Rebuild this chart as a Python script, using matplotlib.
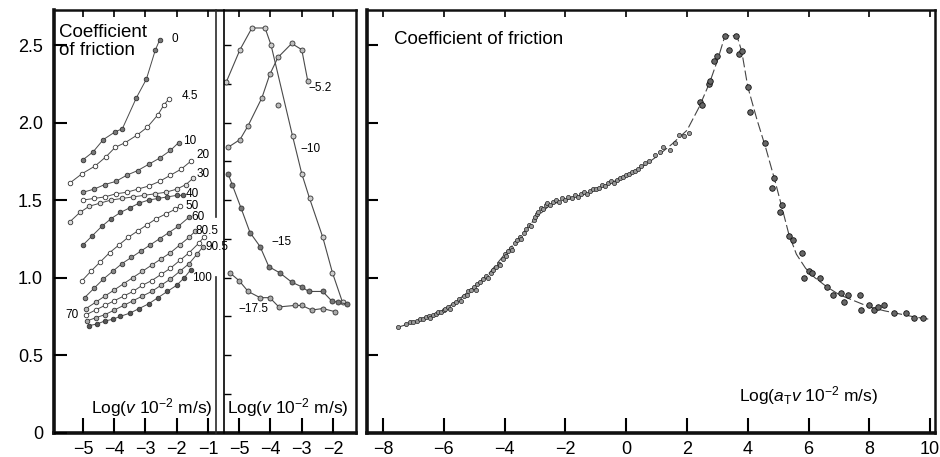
import matplotlib.pyplot as plt
from matplotlib.lines import Line2D
import numpy as np

plt.rcParams['font.family'] = ['Liberation Sans', 'DejaVu Sans']
plt.rcParams['mathtext.fontset'] = 'custom'
plt.rcParams['mathtext.rm'] = 'Liberation Sans'
plt.rcParams['mathtext.it'] = 'Liberation Sans:italic'

# ---- left family: log v vs coefficient of friction, label = temperature (C)
warm = {
    '0':    ([-5.0, -4.68, -4.35, -3.97, -3.74, -3.29, -2.97, -2.68, -2.55],
             [1.76, 1.81, 1.89, 1.94, 1.96, 2.16, 2.28, 2.47, 2.53]),
    '4.5':  ([-5.42, -5.03, -4.61, -4.26, -3.97, -3.65, -3.26, -2.94, -2.6, -2.42, -2.26],
             [1.61, 1.67, 1.72, 1.78, 1.84, 1.87, 1.92, 1.97, 2.05, 2.11, 2.15]),
    '10':   ([-5.0, -4.65, -4.3, -3.95, -3.6, -3.25, -2.9, -2.55, -2.2, -1.94],
             [1.55, 1.57, 1.60, 1.62, 1.66, 1.69, 1.73, 1.77, 1.82, 1.87]),
    '20':   ([-5.0, -4.65, -4.3, -3.95, -3.6, -3.25, -2.9, -2.55, -2.2, -1.85, -1.55],
             [1.50, 1.51, 1.52, 1.54, 1.55, 1.57, 1.59, 1.62, 1.66, 1.70, 1.75]),
    '30':   ([-5.42, -5.1, -4.8, -4.45, -4.1, -3.75, -3.4, -3.05, -2.7, -2.35, -2.0, -1.7, -1.48],
             [1.36, 1.42, 1.46, 1.48, 1.50, 1.51, 1.52, 1.53, 1.54, 1.55, 1.57, 1.60, 1.64]),
    '40':   ([-5.0, -4.7, -4.4, -4.1, -3.8, -3.5, -3.2, -2.9, -2.6, -2.3, -2.0, -1.81],
             [1.21, 1.27, 1.33, 1.38, 1.42, 1.45, 1.48, 1.50, 1.51, 1.52, 1.53, 1.53]),
    '50':   ([-5.03, -4.75, -4.45, -4.15, -3.85, -3.55, -3.25, -2.95, -2.65, -2.35, -2.05, -1.9],
             [0.98, 1.04, 1.10, 1.16, 1.21, 1.26, 1.30, 1.34, 1.38, 1.41, 1.44, 1.46]),
    '60':   ([-4.95, -4.65, -4.35, -4.05, -3.75, -3.45, -3.15, -2.85, -2.55, -2.25, -1.95, -1.6],
             [0.87, 0.93, 0.99, 1.04, 1.09, 1.13, 1.17, 1.21, 1.25, 1.29, 1.33, 1.39]),
    '70':   ([-4.9, -4.6, -4.3, -4.0, -3.7, -3.4, -3.1, -2.8, -2.5, -2.2, -1.9, -1.6, -1.4],
             [0.80, 0.84, 0.88, 0.92, 0.96, 1.00, 1.04, 1.08, 1.12, 1.16, 1.21, 1.26, 1.30]),
    '80.5': ([-4.9, -4.6, -4.3, -4.0, -3.7, -3.4, -3.1, -2.8, -2.5, -2.2, -1.9, -1.6, -1.3, -1.13],
             [0.76, 0.79, 0.82, 0.85, 0.88, 0.91, 0.95, 0.98, 1.02, 1.06, 1.11, 1.16, 1.22, 1.26]),
    '90.5': ([-4.87, -4.6, -4.3, -4.0, -3.7, -3.4, -3.1, -2.8, -2.5, -2.2, -1.9, -1.6, -1.35, -1.15],
             [0.72, 0.74, 0.76, 0.79, 0.82, 0.85, 0.88, 0.91, 0.95, 0.99, 1.04, 1.09, 1.15, 1.20]),
    '100':  ([-4.8, -4.55, -4.3, -4.05, -3.8, -3.5, -3.2, -2.9, -2.6, -2.3, -2.0, -1.75, -1.55],
             [0.69, 0.70, 0.72, 0.73, 0.75, 0.77, 0.80, 0.83, 0.87, 0.91, 0.95, 1.00, 1.05]),
}
warm_lab = {'0': (-2.06, 2.54), '4.5': (-1.58, 2.17), '10': (-1.58, 1.88),
            '20': (-1.16, 1.79), '30': (-1.16, 1.67), '40': (-1.51, 1.54),
            '50': (-1.51, 1.46), '60': (-1.32, 1.39), '80.5': (-1.03, 1.30),
            '90.5': (-0.71, 1.20), '100': (-1.19, 1.00), '70': (-5.35, 0.76)}

cold = {
    '\u22125.2':  ([-5.35, -4.97, -4.71, -4.27, -4.02, -3.76, -3.32, -3.0, -2.81],
                   [1.84, 1.89, 1.98, 2.16, 2.31, 2.42, 2.51, 2.47, 2.27]),
    '\u221210':   ([-5.41, -4.97, -4.59, -4.17, -3.98, -3.29, -3.0, -2.75, -2.33, -2.02, -1.70],
                   [2.26, 2.47, 2.61, 2.61, 2.50, 1.91, 1.67, 1.51, 1.26, 1.03, 0.84]),
    '\u221215':   ([-5.35, -5.22, -4.94, -4.65, -4.33, -4.05, -3.70, -3.32, -3.0, -2.78, -2.33, -2.05, -1.86, -1.57],
                   [1.67, 1.60, 1.45, 1.29, 1.20, 1.07, 1.03, 0.97, 0.94, 0.91, 0.91, 0.85, 0.84, 0.83]),
    '\u221217.5': ([-5.29, -5.0, -4.71, -4.33, -4.02, -3.73, -3.22, -3.0, -2.68, -2.33, -1.95],
                   [1.03, 0.98, 0.91, 0.87, 0.87, 0.81, 0.82, 0.82, 0.79, 0.80, 0.78]),
}
cold_stray = ([-3.76], [2.11])
cold_lab = {'\u22125.2': (-2.41, 2.22), '\u221210': (-2.73, 1.83),
            '\u221215': (-3.63, 1.23), '\u221217.5': (-4.55, 0.80)}

# ---- master curve (shifted)
master_x = [-7.5, -7.0, -6.5, -6.0, -5.5, -5.0, -4.5, -4.0, -3.5, -3.0, -2.5, -2.0, -1.5,
            -1.0, -0.5, 0.0, 0.5, 1.0, 1.5, 2.0, 2.4, 2.75, 3.0, 3.25, 3.64, 3.8, 4.0,
            4.3, 4.6, 4.9, 5.1, 5.35, 5.6, 5.9, 6.2, 6.6, 7.0, 7.5, 8.0, 8.5, 9.0, 9.5, 10.0]
master_y = [0.68, 0.71, 0.745, 0.79, 0.86, 0.94, 1.03, 1.15, 1.26, 1.38, 1.47, 1.50, 1.53,
            1.57, 1.61, 1.66, 1.71, 1.78, 1.86, 1.95, 2.10, 2.26, 2.40, 2.56, 2.56, 2.46, 2.23,
            2.02, 1.83, 1.62, 1.47, 1.28, 1.15, 1.06, 1.00, 0.94, 0.89, 0.85, 0.81, 0.785, 0.765, 0.745, 0.73]
pts_x = [-7.5, -7.25, -7.1, -7.0, -6.9, -6.8, -6.7, -6.6, -6.5, -6.45, -6.35, -6.25, -6.2, -6.1,
         -6.0, -5.95, -5.85, -5.8, -5.7, -5.6, -5.5, -5.45, -5.35, -5.25, -5.2, -5.1, -5.0, -4.95,
         -4.9, -4.8, -4.7, -4.6, -4.55, -4.45, -4.4, -4.3, -4.2, -4.15, -4.05, -4.0, -3.95, -3.9,
         -3.8, -3.75, -3.65, -3.6, -3.5, -3.45, -3.35, -3.3, -3.2, -3.15, -3.05, -3.0, -2.95, -2.9,
         -2.8, -2.75, -2.65, -2.6, -2.5, -2.4, -2.3, -2.2, -2.1, -2.0, -1.9, -1.8, -1.7, -1.6, -1.5,
         -1.4, -1.3, -1.2, -1.1, -1.0, -0.9, -0.8, -0.7, -0.6, -0.5, -0.4, -0.3, -0.2, -0.1, 0.0,
         0.1, 0.2, 0.3, 0.4, 0.5, 0.62, 0.75, 0.95, 1.1, 1.2, 1.44, 1.6, 1.74, 1.9, 2.07,
         2.43, 2.49, 2.72, 2.75, 2.89, 2.98, 3.25, 3.38, 3.6, 3.7, 3.8, 4.0, 4.07, 4.56, 4.85,
         4.79, 5.11, 5.05, 5.34, 5.5, 5.77, 5.84, 6.03, 6.1, 6.36, 6.6, 6.8, 7.08, 7.18, 7.31,
         7.7, 7.74, 8.0, 8.16, 8.3, 8.49, 8.82, 9.21, 9.48, 9.77]
pts_y = [0.68, 0.70, 0.71, 0.715, 0.72, 0.73, 0.735, 0.745, 0.75, 0.74, 0.76, 0.765, 0.775, 0.78,
         0.79, 0.80, 0.81, 0.80, 0.83, 0.84, 0.86, 0.85, 0.88, 0.89, 0.91, 0.92, 0.94, 0.92,
         0.96, 0.97, 0.99, 1.01, 1.00, 1.03, 1.05, 1.07, 1.09, 1.08, 1.12, 1.15, 1.14, 1.17,
         1.19, 1.18, 1.22, 1.24, 1.26, 1.25, 1.29, 1.31, 1.34, 1.33, 1.37, 1.39, 1.41, 1.42,
         1.45, 1.44, 1.47, 1.48, 1.47, 1.49, 1.50, 1.49, 1.51, 1.50, 1.52, 1.51, 1.53, 1.52, 1.54,
         1.55, 1.54, 1.56, 1.57, 1.57, 1.58, 1.60, 1.59, 1.61, 1.62, 1.61, 1.63, 1.64, 1.65, 1.66,
         1.67, 1.68, 1.69, 1.70, 1.72, 1.74, 1.75, 1.79, 1.81, 1.84, 1.82, 1.87, 1.92, 1.91, 1.93,
         2.13, 2.11, 2.25, 2.27, 2.40, 2.43, 2.56, 2.47, 2.56, 2.44, 2.46, 2.23, 2.07, 1.87, 1.64,
         1.58, 1.47, 1.42, 1.27, 1.24, 1.16, 1.00, 1.04, 1.03, 1.00, 0.94, 0.89, 0.90, 0.84, 0.89,
         0.89, 0.79, 0.82, 0.79, 0.81, 0.82, 0.77, 0.77, 0.74, 0.74]

W, H = 940, 457
fig = plt.figure(figsize=(W / 100, H / 100), dpi=100)


def fx(px):
    return px / W


def fy(py):
    return 1 - py / H


top, bot = 10, 432.5
hgt = fy(top) - fy(bot)
ylim = (0, 2.726)
dark = '#2a2a2a'
line_c = '#4a4a4a'

# outer frame of the left panel
frame = fig.add_axes([fx(54), fy(bot), fx(356 - 54), hgt])
frame.set_xticks([])
frame.set_yticks([])
for s, w in zip(['left', 'bottom', 'top', 'right'], [2.6, 2.6, 1.8, 1.8]):
    frame.spines[s].set_linewidth(w)
    frame.spines[s].set_color('#111111')

ax1 = fig.add_axes([fx(54), fy(bot), fx(216 - 54), hgt])
ax2 = fig.add_axes([fx(224), fy(bot), fx(356 - 224), hgt])
ax3 = fig.add_axes([fx(367), fy(bot), fx(935 - 367), hgt])

for ax in (ax1, ax2):
    ax.patch.set_alpha(0)
    for s in ax.spines.values():
        s.set_visible(False)
ax2.spines['left'].set_visible(True)
ax2.spines['left'].set_linewidth(1.2)

# broken divider line at the right of the first sub-panel
ax1.add_line(Line2D([1, 1], [0.51, 1], transform=ax1.transAxes, color=dark, lw=1.2, clip_on=False))
ax1.add_line(Line2D([1, 1], [0, 0.368], transform=ax1.transAxes, color=dark, lw=1.2, clip_on=False))

ax1.set_xlim(-5.93, -0.74)
ax2.set_xlim(-5.48, -1.27)
ax3.set_xlim(-8.53, 10.16)
for ax in (ax1, ax2, ax3):
    ax.set_ylim(*ylim)

faces = ['#777777', 'white', '#888888', 'white', '#dddddd', '#666666', 'white',
         '#888888', '#bbbbbb', 'white', '#aaaaaa', '#555555']
for (k, (x, y)), fc in zip(warm.items(), faces):
    ax1.plot(x, y, '-', color=line_c, lw=0.7, marker='o', ms=3.3, mfc=fc, mec='#333333', mew=0.6)
for k, (tx, ty) in warm_lab.items():
    ax1.text(tx, ty, k, fontsize=8.5, ha='center', va='center', clip_on=False)

for (k, (x, y)), fc in zip(cold.items(), ['#bbbbbb', '#cccccc', '#777777', '#aaaaaa']):
    ax2.plot(x, y, '-', color=line_c, lw=0.8, marker='o', ms=3.6, mfc=fc, mec='#333333', mew=0.6)
ax2.plot(*cold_stray, 'o', ms=3.6, mfc='#bbbbbb', mec='#333333', mew=0.6)
for k, (tx, ty) in cold_lab.items():
    ax2.text(tx, ty, k, fontsize=8.5, ha='center', va='center')

px_arr, py_arr = np.array(pts_x), np.array(pts_y)
dense = px_arr <= 2.1
ax3.plot(master_x, master_y, color='#444444', lw=0.8, ls=(0, (9, 3)))
ax3.plot(px_arr[dense], py_arr[dense], 'o', ms=3.0, mfc='#999999', mec='#222222', mew=0.5)
ax3.plot(px_arr[~dense], py_arr[~dense], 'o', ms=4.0, mfc='#666666', mec='#111111', mew=0.6)

for s, w in zip(['left', 'bottom', 'top', 'right'], [2.6, 2.6, 1.8, 1.8]):
    ax3.spines[s].set_linewidth(w)
    ax3.spines[s].set_color('#111111')

# ticks
ax1.set_yticks([0, 0.5, 1.0, 1.5, 2.0, 2.5], ['0', '0.5', '1.0', '1.5', '2.0', '2.5'])
ax1.set_xticks([-5, -4, -3, -2, -1])
ax2.set_xticks([-5, -4, -3, -2])
ax2.set_yticks(np.arange(0.25, 2.6, 0.25))
ax3.set_xticks(np.arange(-8, 11, 2))
ax3.set_yticks([0.5, 1.0, 1.5, 2.0, 2.5])

ax1.tick_params(axis='y', direction='in', length=9, width=1.5, pad=8, labelsize=13)
ax2.tick_params(axis='y', direction='in', length=5, width=1.0, labelleft=False)
ax3.tick_params(axis='y', direction='in', length=8, width=1.5, labelleft=False)
for ax in (ax1, ax2, ax3):
    ax.tick_params(axis='x', direction='in', length=11, width=1.5, pad=6, labelsize=13)
    sec = ax.secondary_xaxis('top')
    sec.set_xticks(ax.get_xticks())
    sec.tick_params(direction='in', length=5, width=1.2, labeltop=False)
    sec.spines['top'].set_visible(False)

# texts
ax1.text(0.03, 0.967, 'Coefficient\nof friction', transform=ax1.transAxes,
         fontsize=13.5, ha='left', va='top', linespacing=1.05)
ax3.text(0.047, 0.93, 'Coefficient of friction', transform=ax3.transAxes,
         fontsize=13.5, ha='left', va='center')
ax1.text(0.605, 0.06, r'Log($v$ 10$^{-2}$ m/s)', transform=ax1.transAxes,
         fontsize=12.5, ha='center', va='center')
ax2.text(0.02, 0.06, r'Log($v$ 10$^{-2}$ m/s)', transform=ax2.transAxes,
         fontsize=12.5, ha='left', va='center')
ax3.text(0.655, 0.087, r'Log($a_{\rm T}v$ 10$^{-2}$ m/s)', transform=ax3.transAxes,
         fontsize=12.5, ha='left', va='center')

fig.savefig('out.png', dpi=100)
